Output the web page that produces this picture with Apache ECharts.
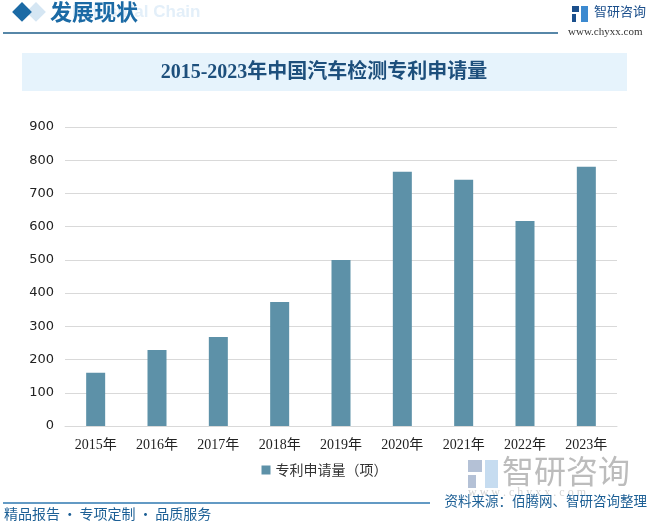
<!DOCTYPE html>
<html>
<head>
<meta charset="utf-8">
<script src="https://cdn.jsdelivr.net/npm/echarts@6/dist/echarts.min.js"></script>
<style>
html,body{margin:0;padding:0;background:#fff;}
#chart{width:649px;height:525px;}
</style>
</head>
<body>
<div id="chart"></div>
<script>
const categories = ['2015年','2016年','2017年','2018年','2019年','2020年','2021年','2022年','2023年'];
const patentApplications = [160, 229, 268, 373, 500, 765, 741, 617, 780];
const seriesName = '专利申请量（项）';
const chartTitle = '2015-2023年中国汽车检测专利申请量';
const yTicks = {min: 0, max: 900, interval: 100};

const CJK = '"Noto Sans CJK SC", "Noto Sans", sans-serif';
const SERIF = '"Liberation Serif", "DejaVu Serif", "Noto Sans CJK SC", serif';
const BLUE = '#1b6aa5';
const DARK = '#1d4f7c';
const BAR = '#5d91a8';

const chart = echarts.init(document.getElementById('chart'), null, {renderer: 'canvas'});

chart.setOption({
  backgroundColor: '#ffffff',
  animation: false,
  grid: {left: 65, right: 32, top: 127, bottom: 99, containLabel: false},
  legend: {
    data: [seriesName],
    left: 'center',
    top: 458,
    itemWidth: 9,
    itemHeight: 9,
    icon: 'rect',
    itemGap: 10,
    textStyle: {fontFamily: CJK, fontSize: 14, color: '#333'}
  },
  xAxis: {
    type: 'category',
    data: categories,
    axisLine: {lineStyle: {color: '#d9d9d9', width: 1}},
    axisTick: {show: false},
    axisLabel: {fontFamily: SERIF, fontSize: 14, color: '#222', margin: 12, interval: 0}
  },
  yAxis: {
    type: 'value',
    min: yTicks.min,
    max: yTicks.max,
    interval: yTicks.interval,
    axisLine: {show: false},
    axisTick: {show: false},
    splitLine: {lineStyle: {color: '#d9d9d9', width: 1}},
    axisLabel: {fontFamily: '"DejaVu Sans", sans-serif', fontSize: 13, color: '#222', margin: 11}
  },
  series: [{
    name: seriesName,
    type: 'bar',
    data: patentApplications,
    barWidth: 19,
    itemStyle: {color: BAR}
  }],
  graphic: [
    // header
    {type: 'text', left: 72, top: 4, z: 1, silent: true,
      style: {text: 'Industrial Chain', font: 'bold 17px "Liberation Sans", Arial, sans-serif', fill: '#e3eff9'}},
    {type: 'rect', shape: {x: 0, y: 0, width: 14, height: 14}, x: 36, y: 2, rotation: -Math.PI/4, originX: 0, originY: 0,
      style: {fill: '#d5e6f3'}, z: 2, silent: true},
    {type: 'rect', shape: {x: 0, y: 0, width: 14, height: 14}, x: 22, y: 2, rotation: -Math.PI/4, originX: 0, originY: 0,
      style: {fill: BLUE}, z: 3, silent: true},
    {type: 'text', left: 50, top: 1, z: 4, silent: true,
      style: {text: '发展现状', font: 'bold 22px ' + CJK, fill: BLUE}},
    {type: 'line', shape: {x1: 3, y1: 33, x2: 558, y2: 33}, style: {stroke: '#1f5f8b', lineWidth: 1.5}, silent: true},
    // logo top right
    {type: 'rect', shape: {x: 572, y: 6, width: 7, height: 6}, style: {fill: '#1b4f8c'}, silent: true},
    {type: 'rect', shape: {x: 572, y: 14, width: 4, height: 8}, style: {fill: '#1b4f8c'}, silent: true},
    {type: 'rect', shape: {x: 581, y: 6, width: 7, height: 16}, style: {fill: '#3c8ad0'}, silent: true},
    {type: 'text', left: 594, top: 5, silent: true,
      style: {text: '智研咨询', font: '13px ' + CJK, fill: '#1b4f8c'}},
    {type: 'text', left: 568, top: 27, silent: true,
      style: {text: 'www.chyxx.com', font: '11px ' + SERIF, fill: '#333'}},
    // title band
    {type: 'rect', shape: {x: 22, y: 53, width: 605, height: 38}, style: {fill: '#e6f3fc'}, z: 0, silent: true},
    {type: 'text', x: 324, y: 73, silent: true,
      style: {text: chartTitle, font: 'bold 20px ' + SERIF, fill: DARK, align: 'center', verticalAlign: 'middle'}},
    // bottom-right watermark logo
    {type: 'rect', shape: {x: 468, y: 460, width: 14, height: 12}, style: {fill: '#b4c1d6'}, silent: true, z: 0},
    {type: 'rect', shape: {x: 468, y: 475, width: 8, height: 13}, style: {fill: '#b4c1d6'}, silent: true, z: 0},
    {type: 'rect', shape: {x: 485, y: 460, width: 13, height: 28}, style: {fill: '#c6dcf0'}, silent: true, z: 0},
    {type: 'text', left: 502, top: 455, silent: true, z: 0,
      style: {text: '智研咨询', font: '32px ' + CJK, fill: '#bcbcbc'}},
    {type: 'text', left: 468, top: 487, silent: true, z: 0,
      style: {text: 'w w w . c h y x x . c o m', font: '12px ' + SERIF, fill: '#d4d4d4'}},
    // footer
    {type: 'line', shape: {x1: 3, y1: 503, x2: 430, y2: 503}, style: {stroke: '#2f78b0', lineWidth: 1.5}, silent: true},
    {type: 'text', left: 4, top: 507, silent: true,
      style: {text: '精品报告\u2009·\u2009专项定制\u2009·\u2009品质服务', font: '14px ' + CJK, fill: '#1c5f95'}},
    {type: 'text', right: 2, top: 494, silent: true,
      style: {text: '资料来源：佰腾网、智研咨询整理', font: '13.5px ' + CJK, fill: '#1c5f95'}}
  ]
});
</script>
</body>
</html>
